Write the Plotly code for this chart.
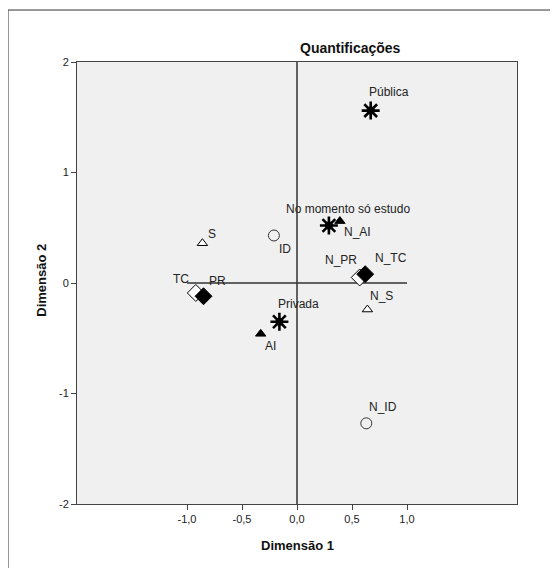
import plotly.graph_objects as go

# ---- data ----
inst_labels = ["Pública", "Privada", "No momento só estudo"]
inst_x = [0.67, -0.16, 0.29]
inst_y = [1.56, -0.35, 0.52]

ai_labels = ["AI", "N_AI"]
ai_x = [-0.33, 0.39]
ai_y = [-0.46, 0.56]

s_labels = ["S", "N_S"]
s_x = [-0.86, 0.64]
s_y = [0.36, -0.24]

id_labels = ["ID", "N_ID"]
id_x = [-0.21, 0.63]
id_y = [0.43, -1.27]

tc_labels = ["TC", "N_TC"]
tc_x = [-0.92, 0.57]
tc_y = [-0.09, 0.05]

pr_labels = ["PR", "N_PR"]
pr_x = [-0.85, 0.62]
pr_y = [-0.12, 0.08]

x_tickvals = [-1.0, -0.5, 0.0, 0.5, 1.0]
x_ticktext = ["-1,0", "-0,5", "0,0", "0,5", "1,0"]
y_tickvals = [-2, -1, 0, 1, 2]
y_ticktext = ["-2", "-1", "0", "1", "2"]

# ---- label offsets in pixels (style) ----
label_shift = {
    "Pública": (18, 19), "Privada": (19, 18), "No momento só estudo": (19, 17),
    "AI": (10, -12), "N_AI": (18, -11),
    "S": (10, 9), "N_S": (14, 14),
    "ID": (11, -14), "N_ID": (17, 16),
    "TC": (-15, 14), "N_TC": (31, 19),
    "PR": (14, 15), "N_PR": (-24, 14),
}

FONT = "Liberation Sans, Arial, sans-serif"
fig = go.Figure()

def add(xs, ys, symbol, size, color="black", line_color="black", line_width=1):
    fig.add_trace(go.Scatter(
        x=xs, y=ys, mode="markers", hoverinfo="skip",
        marker=dict(symbol=symbol, size=size, color=color,
                    line=dict(color=line_color, width=line_width)),
        showlegend=False))

# open diamonds first (behind filled ones)
add(tc_x, tc_y, "diamond", 13, color="white", line_width=1)
add(pr_x, pr_y, "diamond", 13, color="black")
add(ai_x, ai_y, "triangle-up", 9, color="black")
add(s_x, s_y, "triangle-up", 9, color="white", line_width=1)
add(id_x, id_y, "circle", 11, color="rgba(0,0,0,0)", line_color="#333", line_width=1)
# starbursts
add(inst_x, inst_y, "asterisk-open", 15, line_width=2.6)
add(inst_x, inst_y, "circle", 8, color="black", line_width=0)

annotations = []
for labs, xs, ys in [(inst_labels, inst_x, inst_y), (ai_labels, ai_x, ai_y),
                     (s_labels, s_x, s_y), (id_labels, id_x, id_y),
                     (tc_labels, tc_x, tc_y), (pr_labels, pr_x, pr_y)]:
    for lab, xv, yv in zip(labs, xs, ys):
        dx, dy = label_shift[lab]
        annotations.append(dict(x=xv, y=yv, xref="x", yref="y", text=lab,
                                showarrow=False, xshift=dx, yshift=dy,
                                xanchor="center", yanchor="middle",
                                font=dict(family=FONT, size=12, color="#222")))

annotations += [
    dict(x=0.6227, y=1.0317, xref="paper", yref="paper", text="<b>Quantificações</b>",
         showarrow=False, xanchor="center", yanchor="middle",
         font=dict(family=FONT, size=14, color="#111")),
    dict(x=0.5, y=-0.0928, xref="paper", yref="paper", text="<b>Dimensão 1</b>",
         showarrow=False, xanchor="center", yanchor="middle",
         font=dict(family=FONT, size=13, color="#111")),
    dict(x=-0.080, y=0.507, xref="paper", yref="paper", text="<b>Dimensão 2</b>",
         showarrow=False, xanchor="center", yanchor="middle", textangle=-90,
         font=dict(family=FONT, size=13, color="#111")),
]

shapes = [
    dict(type="line", xref="x", yref="paper", x0=0, x1=0, y0=0, y1=1,
         line=dict(color="#333", width=1.5), layer="below"),
    dict(type="line", xref="x", yref="y", x0=-1, x1=1, y0=0, y1=0,
         line=dict(color="#333", width=1.5), layer="below"),
    # outer frame (top & left visible)
    dict(type="rect", xref="paper", yref="paper", x0=-0.1568, x1=1.2, y0=-0.2, y1=1.1176,
         line=dict(color="#333", width=1)),
]

axis_common = dict(showgrid=False, zeroline=False, showline=True, mirror=True,
                   linecolor="#444", linewidth=1, ticks="outside", ticklen=5,
                   tickcolor="#444", tickfont=dict(family=FONT, size=11, color="#222"))

fig.update_layout(
    width=550, height=560,
    margin=dict(l=69, r=41, t=54, b=64),
    paper_bgcolor="white", plot_bgcolor="#F0F0F0",
    xaxis=dict(range=[-2, 2], tickvals=x_tickvals, ticktext=x_ticktext, **axis_common),
    yaxis=dict(range=[-2, 2], tickvals=y_tickvals, ticktext=y_ticktext, **axis_common),
    annotations=annotations, shapes=shapes, showlegend=False,
)

fig.write_html("out.html")
